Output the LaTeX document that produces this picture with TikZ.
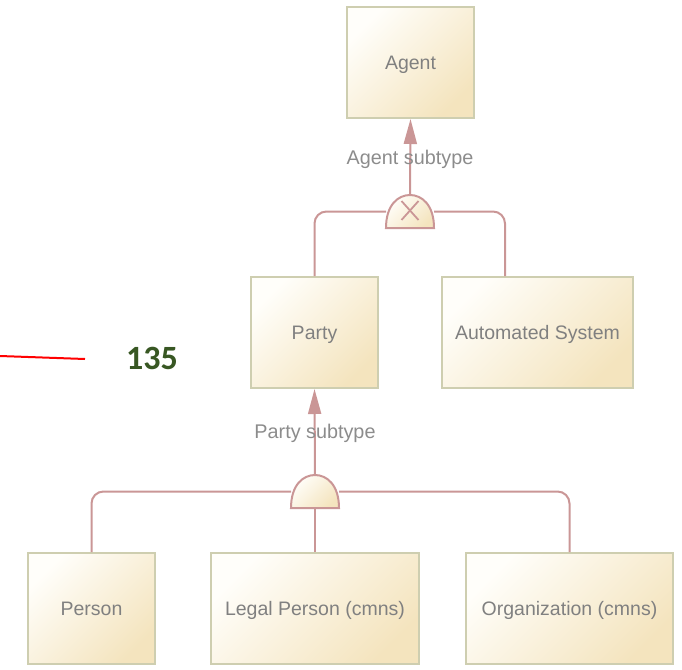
\documentclass[tikz,border=0pt]{standalone}
\usepackage{fontspec}
\setmainfont{Liberation Sans}
\newfontfamily\calfont{Carlito}
\usetikzlibrary{arrows.meta}
\definecolor{boxborder}{RGB}{206,206,176}
\definecolor{creamA}{RGB}{255,254,250}
\definecolor{creamB}{RGB}{244,228,190}
\definecolor{conncol}{RGB}{202,150,150}
\definecolor{txtgray}{RGB}{128,128,128}
\definecolor{lblgray}{RGB}{140,140,140}
\definecolor{numgreen}{RGB}{56,87,35}
\tikzset{
  classbox/.style={draw=boxborder, line width=2pt, top color=creamA, bottom color=creamB, shading angle=45,
    minimum height=111pt, inner sep=0pt, text=txtgray, font=\fontsize{19.5}{23}\selectfont,
    text height=14pt, text depth=0pt},
  gatebox/.style={minimum width=48pt, minimum height=33pt, inner sep=0pt, outer sep=0pt},
  gatefill/.style={draw=conncol, line width=2pt, top color=creamA, bottom color=creamB, shading angle=45},
  conn/.style={draw=conncol, line width=2pt},
  connarrow/.style={conn, -{Triangle[width=13pt,length=25pt]}},
  lbl/.style={text=lblgray, font=\fontsize{19.8}{23}\selectfont, inner sep=0pt, text height=14pt, text depth=0pt},
}
\begin{document}
\begin{tikzpicture}[x=1pt,y=-1pt]
\useasboundingbox (0,0) rectangle (682,669);
% class boxes
\node[classbox, minimum width=127pt] (agent) at (410.5,62.5) {Agent};
\node[classbox, minimum width=127pt] (party) at (314.5,332.5) {Party};
\node[classbox, minimum width=191pt] (auto) at (537.5,332.5) {Automated System};
\node[classbox, minimum width=127pt] (person) at (91.5,608.5) {Person};
\node[classbox, minimum width=208pt] (legal) at (315,608.5) {Legal Person (cmns)};
\node[classbox, minimum width=207pt] (org) at (569.5,608.5) {Organization (cmns)};
% gates
\node[gatebox] (gA) at (410,211.5) {};
\node[gatebox] (gP) at (315,491.5) {};
% connectors for Agent gate
\draw[conn, rounded corners=12pt] (gA.west) -| (party.north);
\draw[conn, rounded corners=12pt] (gA.east) -| ([xshift=-32.5pt]auto.north);
\draw[connarrow] (gA.north) -- (agent.south);
\shade[gatefill] (gA.south west) .. controls ([yshift=23pt]gA.south west) and ([xshift=-12pt]gA.north) .. (gA.north)
  .. controls ([xshift=12pt]gA.north) and ([yshift=23pt]gA.south east) .. (gA.south east) -- cycle;
\draw[conn, line width=1.8pt] ([xshift=-8.5pt,yshift=10.5pt]gA.center) -- ([xshift=8.5pt,yshift=-8.5pt]gA.center);
\draw[conn, line width=1.8pt] ([xshift=-8.5pt,yshift=-8.5pt]gA.center) -- ([xshift=8.5pt,yshift=10.5pt]gA.center);
\node[lbl] (lA) at (410,157) {Agent subtype};
% connectors for Party gate
\draw[conn, rounded corners=12pt] (gP.west) -| (person.north);
\draw[conn, rounded corners=12pt] (gP.east) -| (org.north);
\draw[conn] (gP.south) -- (legal.north);
\draw[connarrow] (gP.north) -- (party.south);
\shade[gatefill] (gP.south west) .. controls ([yshift=23pt]gP.south west) and ([xshift=-12pt]gP.north) .. (gP.north)
  .. controls ([xshift=12pt]gP.north) and ([yshift=23pt]gP.south east) .. (gP.south east) -- cycle;
\node[lbl] (lP) at (315,431) {Party subtype};
% annotation
\coordinate (r1) at (0,356);
\coordinate (r2) at (85,359);
\draw[red, line width=2pt] (r1) -- (r2);
\node[text=numgreen, font=\calfont\bfseries\fontsize{34}{40}\selectfont, inner sep=0pt] (num) at (152,358) {135};
\end{tikzpicture}
\end{document}
